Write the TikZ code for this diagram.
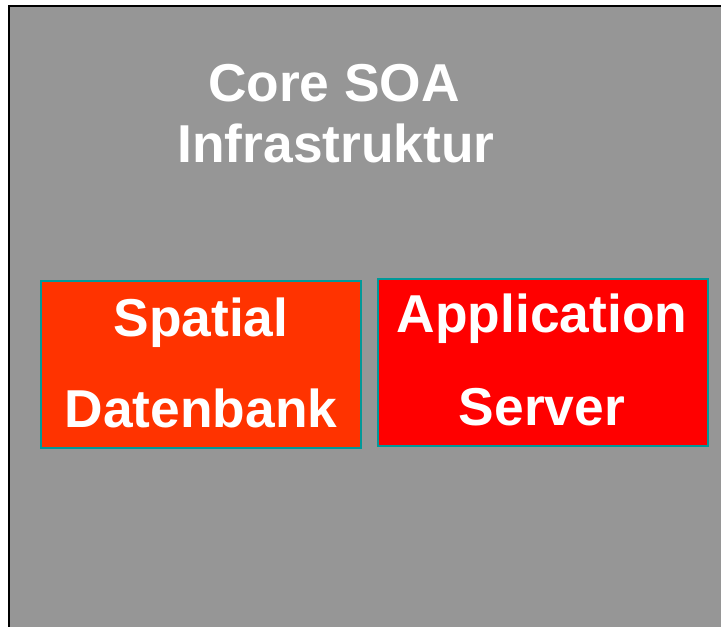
\documentclass[tikz,border=0pt]{standalone}
\usepackage{fontspec}
\setmainfont{Liberation Sans}
\definecolor{bggray}{HTML}{969696}
\definecolor{boxorange}{HTML}{FF3300}
\definecolor{boxred}{HTML}{FF0000}
\definecolor{tealedge}{HTML}{009999}
\tikzset{
  outerbox/.style={fill=bggray, draw=black, line width=2.2pt},
  compbox/.style={draw=tealedge, line width=1.5pt},
  bigtext/.style={text=white, font=\fontsize{40}{45}\selectfont\bfseries, anchor=base, inner sep=0pt}
}
\begin{document}
\begin{tikzpicture}[x=0.75pt,y=-0.75pt]
\useasboundingbox (0,0) rectangle (721,627);
\draw[outerbox] (9,6) rectangle (740,650);
\node[bigtext] (core) at (334,102) {Core SOA};
\node[bigtext] (infra) at (336,163) {Infrastruktur};
\draw[compbox, fill=boxorange] (41,281) rectangle (361,448);
\draw[compbox, fill=boxred] (378,279) rectangle (708,446);
\node[bigtext] (spatial) at (201,336) {Spatial};
\node[bigtext] (daten) at (201,427) {Datenbank};
\node[bigtext] (appl) at (542,333) {Application};
\node[bigtext] (server) at (542,425) {Server};
\end{tikzpicture}
\end{document}
